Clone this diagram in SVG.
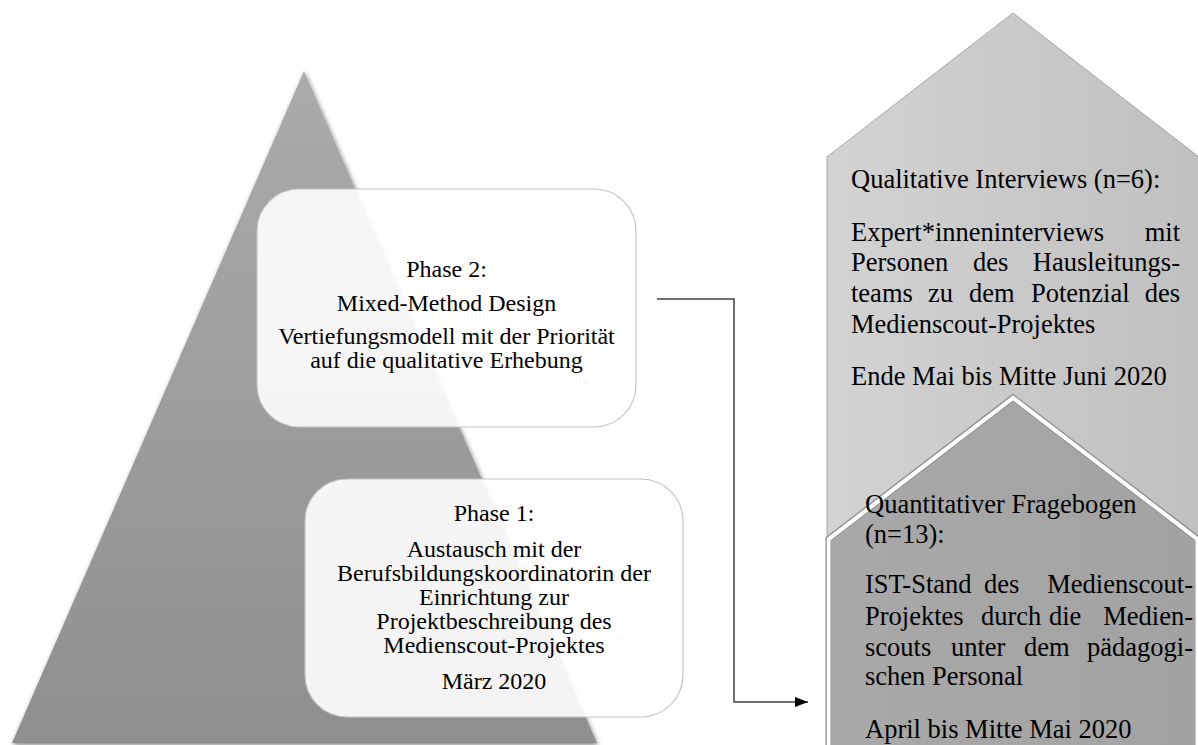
<svg xmlns="http://www.w3.org/2000/svg" width="1198" height="745" viewBox="0 0 1198 745">
<defs>
<linearGradient id="triG" x1="0" y1="0" x2="0" y2="1">
<stop offset="0" stop-color="#ababab"/>
<stop offset="1" stop-color="#8f8f8f"/>
</linearGradient>
<linearGradient id="upG" x1="0" y1="0" x2="1" y2="0">
<stop offset="0" stop-color="#d3d3d3"/>
<stop offset="1" stop-color="#c0c0c0"/>
</linearGradient>
<linearGradient id="loG" x1="0" y1="0" x2="1" y2="0">
<stop offset="0" stop-color="#a9a9a9"/>
<stop offset="1" stop-color="#a2a2a2"/>
</linearGradient>
<filter id="sh" x="-10%" y="-10%" width="120%" height="120%">
<feGaussianBlur in="SourceAlpha" stdDeviation="2.5"/>
<feOffset dx="1" dy="2" result="b"/>
<feComponentTransfer><feFuncA type="linear" slope="0.5"/></feComponentTransfer>
<feMerge><feMergeNode/><feMergeNode in="SourceGraphic"/></feMerge>
</filter>
<marker id="arr" markerWidth="14" markerHeight="10" refX="13" refY="5" orient="auto" markerUnits="userSpaceOnUse">
<path d="M0,0 L13,5 L0,10 Z" fill="#000"/>
</marker>
</defs>
<style>
.l{font-family:"Liberation Serif","Times New Roman",serif;font-size:24px;fill:#000;text-anchor:middle}
.r{font-family:"Liberation Serif","Times New Roman",serif;font-size:26.5px;fill:#000}
.e{text-anchor:end}
.box{fill:#fff;fill-opacity:0.9;stroke:#c4c4c4;stroke-width:1.2}
.conn{fill:none;stroke:#404040;stroke-width:1.5}
</style>
<g id="pyramid">
<polygon points="304,71 12,743 597,743" fill="url(#triG)" filter="url(#sh)"/>
</g>
<g id="interviews">
<polygon points="1013,13 1199,157 1199,745 827,745 827,157" fill="url(#upG)" stroke="#a6a6a6" stroke-width="1"/>
<text class="r" x="851" y="188">Qualitative Interviews (n=6):</text>
<text class="r" x="851" y="241">Expert*inneninterviews</text>
<text class="r e" x="1180" y="241">mit</text>
<text class="r" x="851" y="271">Personen</text>
<text class="r" x="973" y="271">des</text>
<text class="r e" x="1180" y="271">Hausleitungs-</text>
<text class="r" x="851" y="302">teams</text>
<text class="r" x="928" y="302">zu</text>
<text class="r" x="969" y="302">dem</text>
<text class="r" x="1031" y="302">Potenzial</text>
<text class="r e" x="1180" y="302">des</text>
<text class="r" x="851" y="333">Medienscout-Projektes</text>
<text class="r" x="851" y="385">Ende Mai bis Mitte Juni 2020</text>
</g>
<g id="fragebogen">
<polygon points="1013,398 1197,539 1197,760 829,760 829,539" fill="none" stroke="#8c8c8c" stroke-width="7"/>
<polygon points="1013,398 1197,539 1197,760 829,760 829,539" fill="url(#loG)" stroke="#fff" stroke-width="4.5"/>
<polygon points="1013,401 1195,540.5 1195,760 831,760 831,540.5" fill="none" stroke="#8c8c8c" stroke-width="1"/>
<text class="r" x="865" y="513">Quantitativer Fragebogen</text>
<text class="r" x="865" y="543">(n=13):</text>
<text class="r" x="865" y="593">IST-Stand</text>
<text class="r" x="984" y="593">des</text>
<text class="r e" x="1193" y="593">Medienscout-</text>
<text class="r" x="865" y="625">Projektes</text>
<text class="r" x="981" y="625">durch</text>
<text class="r" x="1049" y="625">die</text>
<text class="r e" x="1193" y="625">Medien-</text>
<text class="r" x="865" y="656">scouts</text>
<text class="r" x="951" y="656">unter</text>
<text class="r" x="1024" y="656">dem</text>
<text class="r e" x="1193" y="656">pädagogi-</text>
<text class="r" x="865" y="685">schen Personal</text>
<text class="r" x="865" y="738">April bis Mitte Mai 2020</text>
</g>
<g id="phase2">
<rect class="box" x="257" y="189" width="379" height="238" rx="42"/>
<text class="l" x="446.5" y="277">Phase 2:</text>
<text class="l" x="446.5" y="311">Mixed-Method Design</text>
<text class="l" x="446.5" y="344">Vertiefungsmodell mit der Priorität</text>
<text class="l" x="446.5" y="368">auf die qualitative Erhebung</text>
</g>
<g id="phase1">
<rect class="box" x="305" y="479" width="378" height="238" rx="42"/>
<text class="l" x="494" y="521">Phase 1:</text>
<text class="l" x="494" y="557">Austausch mit der</text>
<text class="l" x="494" y="581">Berufsbildungskoordinatorin der</text>
<text class="l" x="494" y="605">Einrichtung zur</text>
<text class="l" x="494" y="629">Projektbeschreibung des</text>
<text class="l" x="494" y="653">Medienscout-Projektes</text>
<text class="l" x="494" y="689">März 2020</text>
</g>
<g id="connectors">
<polyline class="conn" points="657,299 734,299 734,702 808,702" marker-end="url(#arr)"/>
</g>
</svg>
